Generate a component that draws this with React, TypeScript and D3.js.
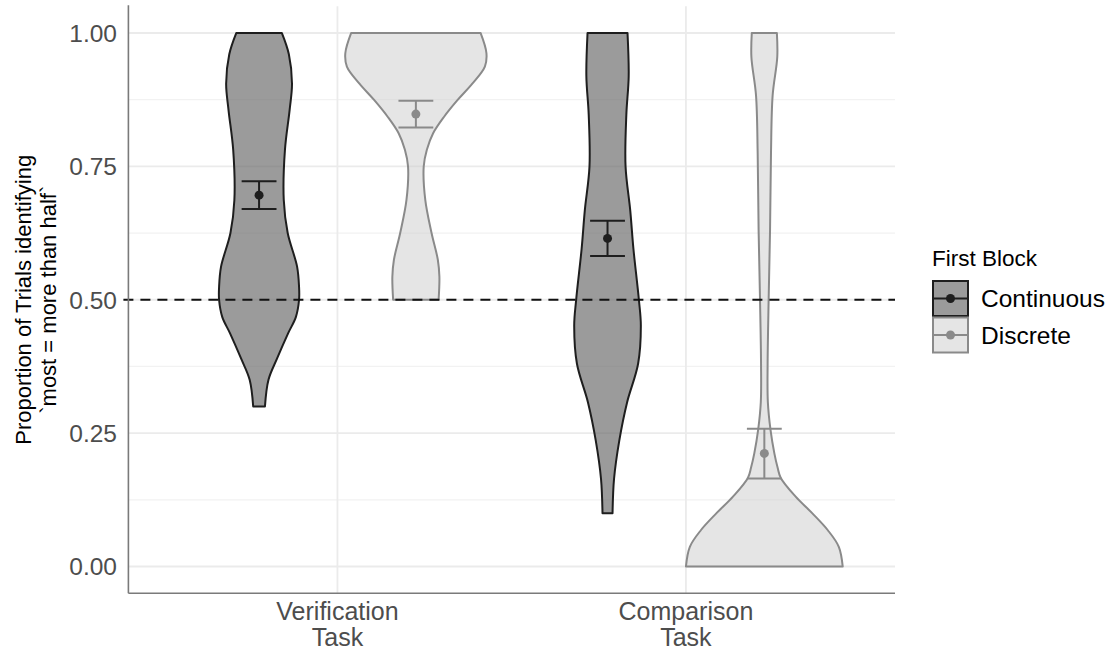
import React from 'react';
import * as d3 from 'd3';

const tasks = ['Verification', 'Comparison'];
const blocks = ['Continuous', 'Discrete'];
const yTicks = [0, 0.25, 0.5, 0.75, 1];
const yMinor = [0.125, 0.375, 0.625, 0.875];

// violin outlines: [proportion, relative half width]
const verifContinuous: [number, number][] = [
  [1.0, 0.29], [0.96, 0.38], [0.905, 0.42], [0.856, 0.39], [0.781, 0.33], [0.687, 0.315],
  [0.625, 0.365], [0.562, 0.485], [0.524, 0.51], [0.5, 0.51], [0.468, 0.47], [0.437, 0.37],
  [0.39, 0.23], [0.35, 0.12], [0.3, 0.075],
];
const verifDiscrete: [number, number][] = [
  [1.0, 0.825], [0.962, 0.9], [0.937, 0.88], [0.905, 0.72], [0.874, 0.53], [0.843, 0.36],
  [0.812, 0.22], [0.781, 0.14], [0.75, 0.1], [0.687, 0.12], [0.625, 0.2], [0.575, 0.28],
  [0.543, 0.3], [0.5, 0.29],
];
const compContinuous: [number, number][] = [
  [1.0, 0.255], [0.919, 0.27], [0.847, 0.24], [0.75, 0.23], [0.667, 0.29], [0.596, 0.33],
  [0.5, 0.4], [0.452, 0.425], [0.38, 0.39], [0.308, 0.25], [0.236, 0.15], [0.164, 0.083],
  [0.1, 0.064],
];
const compDiscrete: [number, number][] = [
  [1.0, 0.16], [0.955, 0.165], [0.883, 0.106], [0.775, 0.085], [0.631, 0.073], [0.5, 0.055],
  [0.38, 0.042], [0.308, 0.045], [0.256, 0.079], [0.212, 0.128], [0.185, 0.17], [0.166, 0.21],
  [0.131, 0.4], [0.1, 0.61], [0.068, 0.81], [0.037, 0.95], [0.0, 1.0],
];

// means with error bars, order: Verif-Cont, Verif-Disc, Comp-Cont, Comp-Disc
const means = [0.696, 0.848, 0.615, 0.212];
const lowers = [0.67, 0.823, 0.582, 0.165];
const uppers = [0.722, 0.873, 0.648, 0.258];

const groups = [
  { task: 'Verification', block: 'Continuous', shape: verifContinuous },
  { task: 'Verification', block: 'Discrete', shape: verifDiscrete },
  { task: 'Comparison', block: 'Continuous', shape: compContinuous },
  { task: 'Comparison', block: 'Discrete', shape: compDiscrete },
];

const fill: Record<string, string> = { Continuous: '#666666', Discrete: '#cccccc' };
const fillOpacity: Record<string, number> = { Continuous: 0.65, Discrete: 0.5 };
const stroke: Record<string, string> = { Continuous: '#1e1e1e', Discrete: '#8a8a8a' };

const font = "'Liberation Sans', Arial, Helvetica, sans-serif";

export default function App() {
  const W = 1114, H = 653;
  const panel = { left: 128.4, right: 895, top: 6.3, bottom: 593.2 };

  // discrete x axis: positions 1,2 with 0.6 expansion
  const x = d3.scaleLinear().domain([0.4, 2.6]).range([panel.left, panel.right]);
  const y = d3.scaleLinear().domain([-0.05, 1.05]).range([panel.bottom, panel.top]);
  const dodge = d3.scaleOrdinal<string, number>().domain(blocks).range([-0.225, 0.225]);
  const unit = x(1) - x(0);
  const halfWidth = (r: number) => r * 0.225 * unit;

  const center = (task: string, block: string) => x(tasks.indexOf(task) + 1 + dodge(block));

  return (
    <svg width={W} height={H} style={{ position: 'absolute', left: 0, top: 0, background: '#fff' }}
      fontFamily={font}>
      {/* grid */}
      {yMinor.map(v => (
        <line key={'mn' + v} x1={panel.left} x2={panel.right} y1={y(v)} y2={y(v)} stroke="#f2f2f2" strokeWidth={1.2} />
      ))}
      {yTicks.map(v => (
        <line key={'mj' + v} x1={panel.left} x2={panel.right} y1={y(v)} y2={y(v)} stroke="#ebebeb" strokeWidth={1.8} />
      ))}
      {tasks.map((t, i) => (
        <line key={'vx' + t} x1={x(i + 1)} x2={x(i + 1)} y1={panel.top} y2={panel.bottom} stroke="#ebebeb" strokeWidth={1.8} />
      ))}

      {/* violins */}
      {groups.map(g => {
        const cx = center(g.task, g.block);
        const area = d3.area<[number, number]>()
          .y(d => y(d[0]))
          .x0(d => cx - halfWidth(d[1]))
          .x1(d => cx + halfWidth(d[1]))
          .curve(d3.curveCatmullRom.alpha(0.5));
        return (
          <path key={g.task + g.block} d={area(g.shape) || ''} fill={fill[g.block]} fillOpacity={fillOpacity[g.block]}
            stroke={stroke[g.block]} strokeWidth={2} strokeLinejoin="round" />
        );
      })}

      {/* reference line */}
      <line x1={panel.left - 5} x2={panel.right} y1={y(0.5)} y2={y(0.5)} stroke="#111" strokeWidth={2} strokeDasharray="10,7" />

      {/* error bars and means */}
      {groups.map((g, i) => {
        const cx = center(g.task, g.block);
        const cap = 0.05 * unit;
        const c = stroke[g.block];
        return (
          <g key={'eb' + i} stroke={c} strokeWidth={2}>
            <line x1={cx} x2={cx} y1={y(uppers[i])} y2={y(lowers[i])} />
            <line x1={cx - cap} x2={cx + cap} y1={y(uppers[i])} y2={y(uppers[i])} />
            <line x1={cx - cap} x2={cx + cap} y1={y(lowers[i])} y2={y(lowers[i])} />
            <circle cx={cx} cy={y(means[i])} r={4.5} fill={c} stroke="none" />
          </g>
        );
      })}

      {/* axes */}
      <line x1={panel.left} x2={panel.left} y1={panel.top - 1} y2={panel.bottom} stroke="#7a7a7a" strokeWidth={1.6} />
      <line x1={panel.left} x2={panel.right} y1={panel.bottom} y2={panel.bottom} stroke="#7a7a7a" strokeWidth={1.6} />

      {yTicks.map(v => (
        <text key={'yt' + v} x={117} y={y(v)} dy="0.36em" textAnchor="end" fontSize={24.5} fill="#4d4d4d">
          {d3.format('.2f')(v)}
        </text>
      ))}
      {tasks.map((t, i) => (
        <text key={'xt' + t} x={x(i + 1)} y={620} textAnchor="middle" fontSize={25} fill="#4d4d4d">
          <tspan x={x(i + 1)}>{t}</tspan>
          <tspan x={x(i + 1)} dy={26}>Task</tspan>
        </text>
      ))}

      <g transform={`translate(0,${(panel.top + panel.bottom) / 2}) rotate(-90)`}>
        <text x={0} y={31} textAnchor="middle" fontSize={22} fill="#000">Proportion of Trials identifying</text>
        <text x={0} y={56} textAnchor="middle" fontSize={22} fill="#000">`most = more than half`</text>
      </g>

      {/* legend */}
      <text x={932} y={266} fontSize={22.5} fill="#000">First Block</text>
      {blocks.map((b, i) => {
        const top = 281 + i * 36.5;
        const size = 35;
        return (
          <g key={'lg' + b}>
            <rect x={933} y={top} width={size} height={size} fill={fill[b]} fillOpacity={fillOpacity[b]}
              stroke={stroke[b]} strokeWidth={2} />
            <line x1={933} x2={933 + size} y1={top + size / 2} y2={top + size / 2} stroke={stroke[b]} strokeWidth={2} />
            <circle cx={933 + size / 2} cy={top + size / 2} r={4.5} fill={stroke[b]} />
            <text x={981} y={top + size / 2} dy="0.36em" fontSize={24.5} fill="#000">{b}</text>
          </g>
        );
      })}
    </svg>
  );
}
